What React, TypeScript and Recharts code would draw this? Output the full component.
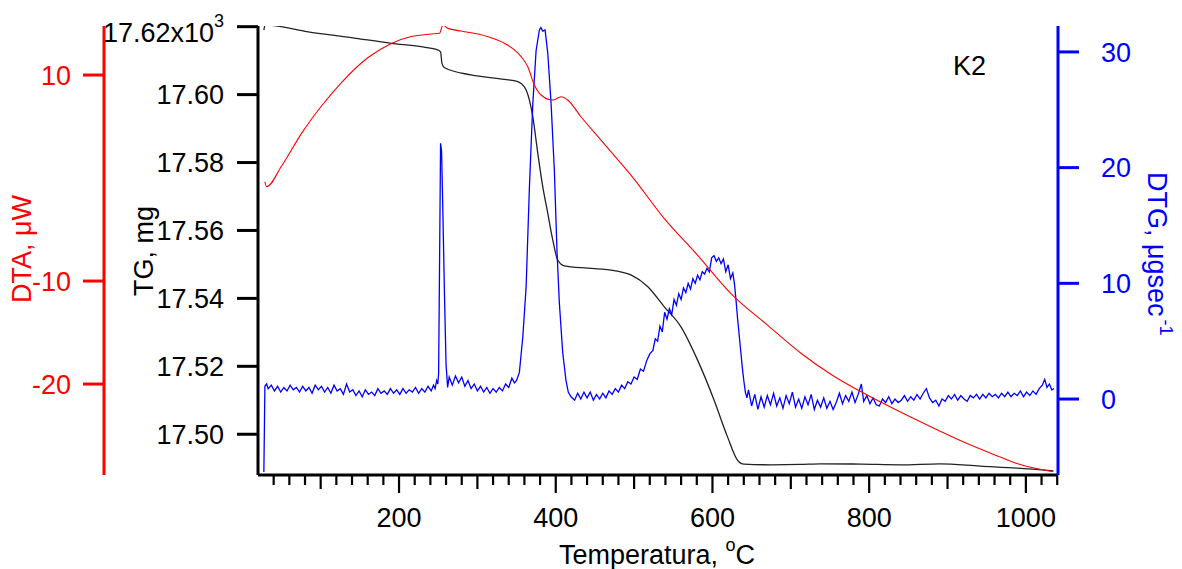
import { ComposedChart, Line, XAxis, YAxis } from "recharts";

const FONT = '"Liberation Sans", Arial, Helvetica, sans-serif';
const FS = 27;
const W = 1182;
const H = 569;

// TG, mg  [temperature °C, mass mg]
const tgPoints: [number, number][] = [
  [27.5, 17.619], [29, 17.6205], [84, 17.6185], [139, 17.6168], [190, 17.6151],
  [228, 17.6141], [247.5, 17.6133], [253, 17.6126], [254.8, 17.6092], [258.1, 17.6079],
  [292, 17.6058], [334.5, 17.6045], [351.6, 17.6038], [360, 17.6023], [366.4, 17.5984],
  [370.7, 17.5935], [377.1, 17.5827], [383.4, 17.5729], [389.8, 17.5651], [396.2, 17.5572],
  [402.5, 17.5513], [411, 17.5496], [440.8, 17.5489], [474.7, 17.5482], [495.9, 17.5469],
  [517.2, 17.5435], [538.3, 17.5376], [559.6, 17.5317], [580.9, 17.5219], [602, 17.5101],
  [619.1, 17.4993], [631.9, 17.4924], [636, 17.4915], [640.3, 17.4912], [674.3, 17.491],
  [712, 17.4911], [738, 17.4913], [790, 17.4912], [840, 17.491], [890, 17.4913],
  [942, 17.4906], [989, 17.49], [1035, 17.4892],
];

// DTA, µW
const dtaPoints: [number, number][] = [
  [28.8, -0.36], [31, -0.84], [50.1, 1.17], [75.6, 4.34], [101, 6.99], [126.5, 9.27],
  [160.5, 11.7], [190.2, 13.07], [215.7, 13.74], [241.1, 13.98], [251.7, 14.05], [256, 14.85],
  [262.4, 14.53], [279.4, 14.27], [313.4, 13.72], [334.5, 13.08], [355.8, 11.78],
  [364.3, 10.81], [372.7, 9.03], [381.3, 8.06], [396.2, 7.57], [406.8, 7.89],
  [415.3, 7.57], [432.2, 5.95], [457.7, 3.69], [483.2, 1.43], [495.9, 0.29],
  [538.3, -3.91], [580.9, -7.48], [623.3, -11.19], [671.7, -14.37], [712.5, -16.99],
  [754.5, -19.22], [797.5, -21.07], [840, -22.72], [882, -24.27], [925, -25.78],
  [967.3, -27.09], [988.5, -27.72], [1034.8, -28.51],
];

// DTG, µg/sec
const dtgPoints: [number, number][] = [
  [27.5, -6.3], [28.8, 1.1], [31, 1.3], [33, 0.9], [37, 1.2], [41, 0.7], [45, 1.1],
  [49, 0.6], [53, 1.0], [57, 0.7], [61, 1.2], [65, 0.8], [69, 1.0], [73, 0.6],
  [77, 1.1], [81, 0.7], [85, 1.0], [89, 0.5], [93, 1.2], [97, 0.8], [101, 1.1],
  [105, 0.6], [109, 1.0], [113, 0.5], [117, 1.2], [121, 0.7], [125, 0.9], [129, 0.4],
  [133, 1.3], [137, 0.6], [141, 0.8], [145, 0.3], [149, 0.7], [153, 0.2], [157, 0.8],
  [161, 0.4], [165, 0.6], [169, 0.3], [173, 0.9], [177, 0.5], [181, 0.7], [185, 0.4],
  [189, 0.9], [193, 0.5], [197, 0.8], [201, 0.4], [205, 0.9], [209, 0.5], [213, 0.8],
  [217, 0.6], [221, 1.0], [225, 0.5], [229, 0.9], [233, 0.6], [237, 1.1], [241, 0.7],
  [244, 1.2], [246, 0.9], [248, 1.6], [249.5, 1.3], [250.5, 2.2], [252, 14],
  [253, 22.1], [254.3, 21.4], [256, 16], [258, 9], [260, 3], [262, 1.0], [264, 1.9],
  [268, 1.2], [272, 2.0], [276, 1.4], [280, 1.9], [284, 1.1], [288, 1.6], [292, 0.9],
  [296, 1.3], [300, 0.7], [304, 1.1], [308, 0.6], [312, 1.0], [316, 0.5], [320, 0.9],
  [324, 0.6], [328, 1.0], [332, 0.7], [336, 1.3], [340, 1.0], [344, 1.8], [347.3, 1.4],
  [350, 1.6], [353.6, 2.3], [358, 5.4], [362.2, 9.7], [366.4, 18.3], [370.7, 25.5],
  [374.9, 30.1], [379.1, 31.9], [381, 32.1], [383.4, 31.8], [386.4, 31.9], [389.8, 29.9],
  [394, 25.6], [398.2, 19.8], [401.7, 12.6], [404.6, 8.3], [408.9, 4.0], [413.1, 1.6],
  [416, 0.6], [419.5, 0.2], [424, -0.1], [428, 0.5], [432, 0.0], [436, 0.6], [440, 0.1],
  [444, 0.6], [448, -0.1], [452, 0.4], [456, 0.0], [460, 0.5], [464, 0.1], [468, 0.7],
  [472, 0.4], [476, 0.9], [480, 0.6], [484, 1.2], [488, 0.9], [492, 1.5], [496, 1.3],
  [500, 1.9], [504, 1.7], [508, 2.6], [512, 2.4], [516, 3.3], [520, 3.9], [524, 4.2],
  [527, 5.2], [530, 5.0], [533, 6.3], [536, 5.8], [539, 7.5], [542, 6.9], [545, 7.8],
  [548, 7.3], [551, 8.6], [554, 8.1], [557, 9.1], [560, 8.6], [563, 9.6], [566, 9.2],
  [569, 10.0], [572, 9.5], [575, 10.4], [578, 10.0], [581, 10.7], [584, 10.3], [587, 11.0],
  [590, 10.8], [593, 11.3], [596, 11.0], [599, 12.2], [602, 12.4], [605, 11.9], [608, 12.2],
  [611, 11.7], [614, 12.1], [617, 11.0], [620, 11.6], [623, 10.4], [626, 10.9], [628, 10.0],
  [630, 8.6], [632, 7.0], [634, 5.6], [636, 4.2], [638, 2.8], [640, 1.6], [642, 0.6],
  [644, 0.1], [646, 0.8], [650, -0.6], [654, 0.4], [658, -0.9], [662, 0.2], [666, -0.7],
  [670, 0.3], [674, -0.5], [678, 0.5], [682, -0.6], [686, 0.1], [690, -0.8], [694, 0.3],
  [698, -0.4], [702, 0.6], [706, -0.7], [710, 0.0], [714, -0.8], [718, 0.2], [722, -0.5],
  [726, 0.4], [730, -0.9], [734, -0.1], [738, -0.7], [742, 0.1], [746, -0.8], [750, -0.2],
  [754, -0.9], [758, -0.3], [762, 0.5], [766, -0.4], [770, 0.3], [774, -0.2], [778, 0.6],
  [782, -0.3], [786, 0.4], [790, 1.3], [793, -0.2], [797, 0.3], [801, -0.4], [805, 0.1],
  [809, -0.5], [813, -0.6], [817, 0.0], [821, -0.3], [825, 0.2], [829, -0.4], [833, 0.0],
  [837, -0.3], [841, -0.1], [845, 0.3], [849, -0.2], [853, 0.2], [857, -0.1], [861, 0.4],
  [865, 0.0], [869, 0.5], [873, 0.9], [877, 0.1], [881, -0.3], [885, -0.1], [889, -0.6],
  [893, 0.0], [897, -0.2], [901, 0.3], [905, 0.0], [909, 0.4], [913, -0.1], [917, 0.3],
  [921, 0.0], [925, -0.2], [929, 0.3], [933, 0.1], [937, 0.4], [941, 0.0], [945, 0.4],
  [949, 0.1], [953, 0.5], [957, 0.2], [961, 0.4], [965, 0.1], [969, 0.5], [973, 0.2],
  [977, 0.6], [981, 0.2], [985, 0.5], [989, 0.3], [993, 0.7], [997, 0.2], [1001, 0.6],
  [1005, 0.3], [1009, 0.7], [1013, 0.4], [1017, 0.9], [1021, 1.2], [1024, 1.7], [1027, 1.0],
  [1030, 1.3], [1033, 0.8], [1036, 0.9],
];

const tempTicks = [
  40, 60, 80, 100, 120, 140, 160, 180, 200, 220, 240, 260, 280, 300, 320, 340, 360, 380,
  400, 420, 440, 460, 480, 500, 520, 540, 560, 580, 600, 620, 640, 660, 680, 700, 720,
  740, 760, 780, 800, 820, 840, 860, 880, 900, 920, 940, 960, 980, 1000, 1020, 1040,
];
const tgTicks = [17.5, 17.52, 17.54, 17.56, 17.58, 17.6, 17.62];
const dtaTicks = [-20, -10, 10];
const dtgTicks = [0, 10, 20, 30];

const toRows = (pts: [number, number][]) => pts.map(([t, v]) => ({ t, v }));
const tgData = toRows(tgPoints);
const dtaData = toRows(dtaPoints);
const dtgData = toRows(dtgPoints);

function TempTick(props: any) {
  const { x, y, payload } = props;
  const v = payload.value as number;
  const len = v % 200 === 0 ? 18 : v % 100 === 0 ? 14 : 10;
  return (
    <g>
      <line x1={x} x2={x} y1={y} y2={y + len} stroke="#000" strokeWidth={2.2} />
      {v % 200 === 0 && (
        <text x={x} y={y + 52} textAnchor="middle" fontSize={FS} fontFamily={FONT} fill="#000">
          {v}
        </text>
      )}
    </g>
  );
}

function TgTick(props: any) {
  const { x, y, payload } = props;
  const v = payload.value as number;
  if (Math.abs(v - 17.62) < 1e-6) {
    return (
      <text x={x} y={y + 15} textAnchor="end" fontSize={FS} fontFamily={FONT} fill="#000">
        17.62x10
        <tspan fontSize={18} dy={-15}>3</tspan>
      </text>
    );
  }
  return (
    <text x={x} y={y} dy="0.355em" textAnchor="end" fontSize={FS} fontFamily={FONT} fill="#000">
      {v.toFixed(2)}
    </text>
  );
}

export default function App() {
  return (
    <div style={{ position: "absolute", left: 0, top: 0, width: W, height: H, background: "#fff" }}>
      <ComposedChart width={W} height={H} margin={{ top: 26, right: 0, bottom: 0, left: 0 }}>
        <XAxis
          type="number"
          dataKey="t"
          domain={[20, 1041]}
          allowDataOverflow
          ticks={tempTicks}
          interval={0}
          height={94}
          tickSize={0}
          tickMargin={0}
          tickLine={false}
          tick={<TempTick />}
          axisLine={{ stroke: "#000", strokeWidth: 3 }}
        />
        <YAxis
          yAxisId="b_dta"
          orientation="left"
          width={104}
          domain={[-28.83, 14.76]}
          allowDataOverflow
          ticks={dtaTicks}
          interval={0}
          tickSize={21}
          tickMargin={12}
          stroke="#ff0000"
          axisLine={{ stroke: "#ff0000", strokeWidth: 3 }}
          tickLine={{ stroke: "#ff0000", strokeWidth: 3 }}
          tick={{ fill: "#ff0000", fontSize: FS, fontFamily: FONT }}
        />
        <YAxis
          yAxisId="a_tg"
          orientation="left"
          width={154}
          domain={[17.488, 17.6202]}
          allowDataOverflow
          ticks={tgTicks}
          interval={0}
          tickSize={21}
          tickMargin={13}
          stroke="#000"
          axisLine={{ stroke: "#000", strokeWidth: 3 }}
          tickLine={{ stroke: "#000", strokeWidth: 3 }}
          tick={<TgTick />}
        />
        <YAxis
          yAxisId="c_dtg"
          orientation="right"
          width={124}
          domain={[-6.565, 32.24]}
          allowDataOverflow
          ticks={dtgTicks}
          interval={0}
          tickSize={21}
          tickMargin={22}
          stroke="#0000ff"
          axisLine={{ stroke: "#0000ff", strokeWidth: 3 }}
          tickLine={{ stroke: "#0000ff", strokeWidth: 3 }}
          tick={{ fill: "#0000ff", fontSize: FS, fontFamily: FONT }}
        />
        <Line
          yAxisId="a_tg"
          data={tgData}
          dataKey="v"
          type="monotone"
          stroke="#222"
          strokeWidth={1.3}
          dot={false}
          isAnimationActive={false}
        />
        <Line
          yAxisId="c_dtg"
          data={dtgData}
          dataKey="v"
          type="linear"
          stroke="#0000ff"
          strokeWidth={1.3}
          dot={false}
          isAnimationActive={false}
        />
        <Line
          yAxisId="b_dta"
          data={dtaData}
          dataKey="v"
          type="monotone"
          stroke="#ff0000"
          strokeWidth={1.1}
          dot={false}
          isAnimationActive={false}
        />
      </ComposedChart>
      <svg
        width={W}
        height={H}
        style={{ position: "absolute", left: 0, top: 0, pointerEvents: "none" }}
        fontFamily={FONT}
        fontSize={FS}
      >
        <text x={953} y={75} fill="#000">K2</text>
        <text x={31} y={249} fill="#ff0000" textAnchor="middle" transform="rotate(-90 31 249)">
          DTA, μW
        </text>
        <text x={153} y={251} fill="#000" textAnchor="middle" transform="rotate(-90 153 251)">
          TG, mg
        </text>
        <text x={1148} y={172} fill="#0000ff" transform="rotate(90 1148 172)">
          DTG, μgsec
          <tspan fontSize={18} dx={3} dy={-12}>-1</tspan>
        </text>
        <text x={657} y={564} fill="#000" textAnchor="middle">
          Temperatura,{" "}
          <tspan fontSize={18} dy={-13}>o</tspan>
          <tspan dy={13}>C</tspan>
        </text>
      </svg>
    </div>
  );
}
